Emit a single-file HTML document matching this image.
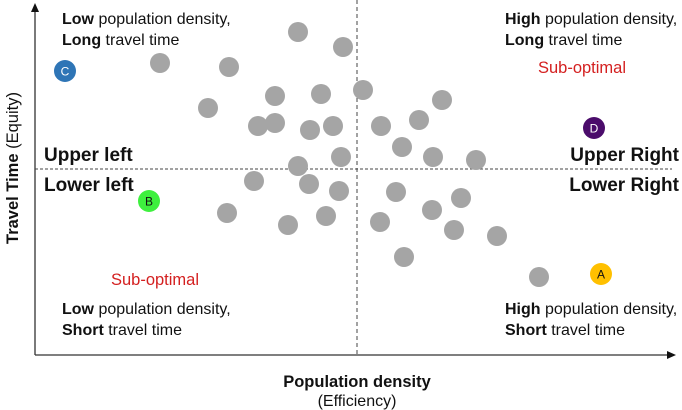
<!DOCTYPE html>
<html><head><meta charset="utf-8"><style>
body{margin:0;background:#fff;}
svg{display:block;font-family:"Liberation Sans",Arial,sans-serif;}
</style></head><body>
<svg id="chart" width="682" height="410" viewBox="0 0 682 410">
<g id="axes">
<line x1="35" y1="355" x2="35" y2="10" stroke="#333" stroke-width="1.3"/>
<polygon points="35,3 31,12 39,12" fill="#111"/>
<line x1="35" y1="355" x2="668" y2="355" stroke="#333" stroke-width="1.3"/>
<polygon points="676,355 667,351 667,359" fill="#111"/>
<line x1="357" y1="0" x2="357" y2="355" stroke="#444" stroke-dasharray="4,3"/>
<line x1="35" y1="169" x2="672" y2="169" stroke="#444" stroke-dasharray="3,2"/>
</g>
<g id="dots"></g>
<g font-size="16" fill="#111">
<text x="62" y="24"><tspan font-weight="bold">Low</tspan> population density,</text>
<text x="62" y="45"><tspan font-weight="bold">Long</tspan> travel time</text>
<text x="505" y="24"><tspan font-weight="bold">High</tspan> population density,</text>
<text x="505" y="45"><tspan font-weight="bold">Long</tspan> travel time</text>
<text x="62" y="314"><tspan font-weight="bold">Low</tspan> population density,</text>
<text x="62" y="335"><tspan font-weight="bold">Short</tspan> travel time</text>
<text x="505" y="314"><tspan font-weight="bold">High</tspan> population density,</text>
<text x="505" y="335"><tspan font-weight="bold">Short</tspan> travel time</text>
<text x="582" y="73" fill="#d42020" text-anchor="middle" font-size="16.5">Sub-optimal</text>
<text x="155" y="285" fill="#d42020" text-anchor="middle" font-size="16.5">Sub-optimal</text>
</g>
<g font-size="19" font-weight="bold" fill="#111">
<text x="44" y="161">Upper left</text>
<text x="44" y="191">Lower left</text>
<text x="679" y="161" text-anchor="end">Upper Right</text>
<text x="679" y="191" text-anchor="end">Lower Right</text>
</g>
<text x="357" y="387" font-size="16.5" font-weight="bold" text-anchor="middle" fill="#111">Population density</text>
<text x="357" y="406" font-size="16" text-anchor="middle" fill="#111">(Efficiency)</text>
<text transform="translate(18,168) rotate(-90)" font-size="16.5" text-anchor="middle" fill="#111"><tspan font-weight="bold">Travel Time</tspan> (Equity)</text>
</svg>
<script>
const dotX=[263,308,125,194,173,240,286,328,407,223,240,275,298,346,384,306,367,398,441,263,219,274,304,361,426,192,253,291,345,397,419,462,369,504];
const dotY=[323,308,292,288,247,259,261,265,255,229,232,225,229,229,235,198,208,198,195,189,174,171,164,163,157,142,130,139,133,145,125,119,98,78];
const namedLabels=["C","B","D","A"];
const namedX=[30,114,559,566];
const namedY=[284,154,227,81];
const namedColors=["#2e75b6","#3ef03e","#4b0c6b","#ffc000"];
function xScale(v){return 35+v;}
function yScale(v){return 355-v;}
const NS="http://www.w3.org/2000/svg";
const g=document.getElementById("dots");
dotX.forEach((v,i)=>{
const c=document.createElementNS(NS,"circle");
c.setAttribute("cx",xScale(v));c.setAttribute("cy",yScale(dotY[i]));c.setAttribute("r",10);c.setAttribute("fill","#a5a5a5");


g.appendChild(c);
});
namedLabels.forEach((l,i)=>{
const c=document.createElementNS(NS,"circle");
c.setAttribute("cx",xScale(namedX[i]));c.setAttribute("cy",yScale(namedY[i]));c.setAttribute("r",11);c.setAttribute("fill",namedColors[i]);


g.appendChild(c);
const t=document.createElementNS(NS,"text");
t.setAttribute("x",xScale(namedX[i]));t.setAttribute("y",yScale(namedY[i])+4.5);t.setAttribute("text-anchor","middle");t.setAttribute("font-size","12");
t.setAttribute("fill",(l==="C"||l==="D")?"#fff":"#111");
t.textContent=l;


g.appendChild(t);
});
</script>
</body></html>
